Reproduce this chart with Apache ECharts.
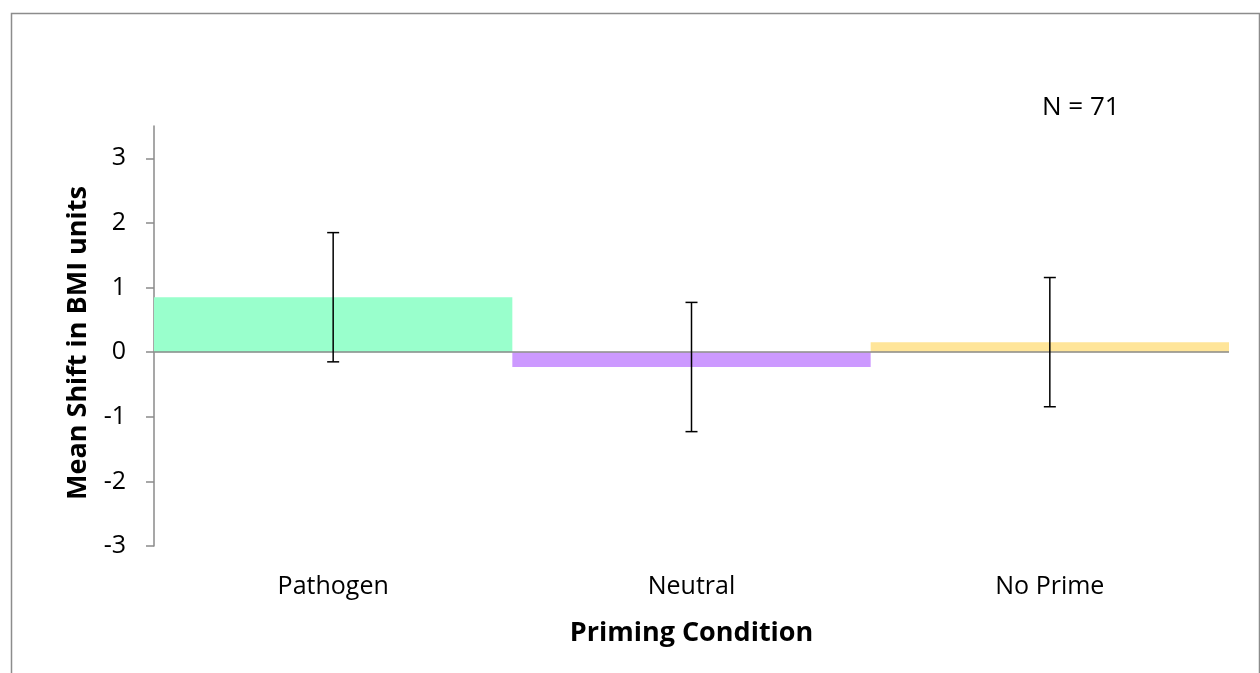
<!DOCTYPE html>
<html>
<head>
<meta charset="utf-8">
<script src="https://cdn.jsdelivr.net/npm/echarts@6/dist/echarts.min.js"></script>
<style>
html,body{margin:0;padding:0;background:#fff;}
#chart{width:1260px;height:673px;}
</style>
</head>
<body>
<div id="chart"></div>
<script>
// ---- data ----
var categories = ['Pathogen', 'Neutral', 'No Prime'];
var means = [0.85, -0.23, 0.155];
var errors = [1.0, 1.0, 1.0];
var barColors = ['#99FFCC', '#CC99FF', '#FFE599'];
var yTicks = [-3, -2, -1, 0, 1, 2, 3];
var xTitle = 'Priming Condition';
var yTitle = 'Mean Shift in BMI units';
var note = 'N = 71';

var FONT = '"Open Sans", Lato, sans-serif';
var chart = echarts.init(document.getElementById('chart'), null, {renderer: 'canvas'});

var option = {
  backgroundColor: '#fff',
  animation: false,
  grid: {left: 154, right: 31, top: 126, bottom: 127, containLabel: false, outerBoundsMode: 'none'},
  xAxis: {
    type: 'category',
    data: categories,
    position: 'bottom',
    axisLine: {show: false, onZero: false},
    axisTick: {show: false},
    axisLabel: {fontFamily: FONT, fontSize: 25, color: '#000', margin: 28},
    name: xTitle,
    nameLocation: 'middle',
    nameGap: 74,
    nameTextStyle: {fontFamily: FONT, fontSize: 27, fontWeight: 'bold', color: '#000'},
    splitLine: {show: false}
  },
  yAxis: {
    type: 'value',
    min: -3,
    max: 3.5,
    interval: 1,
    axisLine: {show: true, lineStyle: {color: '#8a8a8a', width: 1.5}},
    axisTick: {show: true, length: 8, lineStyle: {color: '#8a8a8a', width: 1.5}, customValues: yTicks},
    axisLabel: {fontFamily: FONT, fontSize: 25, color: '#000', margin: 28, customValues: yTicks},
    splitLine: {show: false},
    name: yTitle,
    nameLocation: 'middle',
    nameGap: 62,
    nameTextStyle: {fontFamily: FONT, fontSize: 27, fontWeight: 'bold', color: '#000', padding: [0, 14, 0, 0]}
  },
  series: [
    {
      type: 'bar',
      barCategoryGap: '0%',
      data: means.map(function (v, i) { return {value: v, itemStyle: {color: barColors[i]}}; }),
      markLine: {
        silent: true,
        symbol: ['none', 'none'],
        label: {show: false},
        lineStyle: {color: '#8a8a8a', width: 1.5, type: 'solid'},
        data: [{yAxis: 0}],
        z: 5
      }
    },
    {
      type: 'custom',
      z: 10,
      data: means.map(function (v, i) { return [i, v - errors[i], v + errors[i]]; }),
      encode: {x: 0, y: [1, 2]},
      renderItem: function (params, api) {
        var i = api.value(0);
        var lo = api.coord([i, api.value(1)]);
        var hi = api.coord([i, api.value(2)]);
        var hw = 6;
        var st = {stroke: '#000', lineWidth: 1.5};
        return {
          type: 'group',
          children: [
            {type: 'line', shape: {x1: hi[0], y1: hi[1], x2: lo[0], y2: lo[1]}, style: st},
            {type: 'line', shape: {x1: hi[0] - hw, y1: hi[1], x2: hi[0] + hw, y2: hi[1]}, style: st},
            {type: 'line', shape: {x1: lo[0] - hw, y1: lo[1], x2: lo[0] + hw, y2: lo[1]}, style: st}
          ]
        };
      }
    }
  ],
  graphic: [
    {type: 'rect', left: 9, top: 11, shape: {width: 1248, height: 700}, style: {fill: null, stroke: '#8c8c8c', lineWidth: 1.5}, silent: true, z: -1},
    {type: 'text', left: 1042, top: 95, style: {text: note, fontFamily: FONT, fontSize: 26, fill: '#000'}}
  ]
};
chart.setOption(option);
</script>
</body>
</html>
